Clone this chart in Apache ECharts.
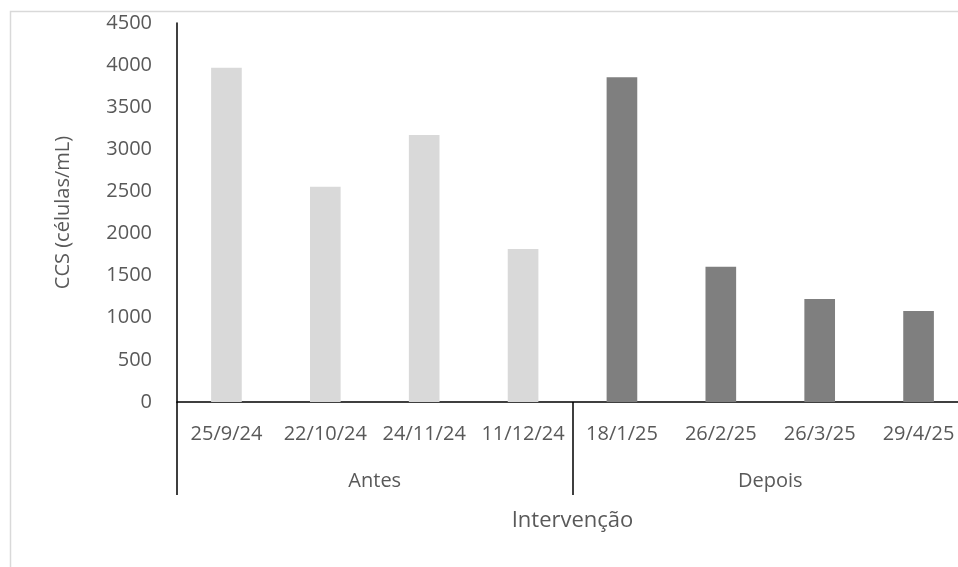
<!DOCTYPE html>
<html>
<head>
<meta charset="utf-8">
<script src="https://cdn.jsdelivr.net/npm/echarts@6/dist/echarts.min.js"></script>
<style>
  html, body { margin: 0; padding: 0; background: #fff; overflow: hidden; }
  /* the chart area runs past the right edge of the window, as in the original */
  #main { width: 1000px; height: 567px; }
</style>
</head>
<body>
<div id="main"></div>
<script>
var dates = ['25/9/24', '22/10/24', '24/11/24', '11/12/24', '18/1/25', '26/2/25', '26/3/25', '29/4/25']
var groups = ['Antes', 'Depois']
// CCS per date, group index of each date
var ccs = [3970, 2555, 3170, 1817, 3855, 1607, 1223, 1080]
var groupOf = [0, 0, 0, 0, 1, 1, 1, 1]
var groupColors = ['#d9d9d9', '#7f7f7f']

var font = 'Open Sans'
var textColor = '#595959'

var chart = echarts.init(document.getElementById('main'))

var option = {
  animation: false,
  textStyle: { fontFamily: font },
  graphic: [
    {
      type: 'rect',
      left: 8,
      top: 9,
      shape: { width: 1100, height: 600 },
      style: { fill: 'none', stroke: '#d9d9d9', lineWidth: 1.5 },
      silent: true
    }
  ],
  grid: {
    left: 177,
    right: 32,
    top: 23,
    bottom: 165
  },
  xAxis: [
    {
      type: 'category',
      data: dates,
      axisLine: { lineStyle: { color: '#000', width: 1.5 } },
      axisTick: { show: false },
      axisLabel: { color: textColor, fontSize: 20, margin: 22, fontFamily: font, interval: 0 },
      name: 'Intervenção',
      nameLocation: 'middle',
      nameGap: 108,
      nameTextStyle: { color: textColor, fontSize: 22, fontFamily: font }
    },
    {
      type: 'category',
      data: groups,
      position: 'bottom',
      offset: 93,
      axisLine: { show: false },
      axisTick: { show: true, inside: true, length: 93, lineStyle: { color: '#000', width: 1.5 } },
      axisLabel: { color: textColor, fontSize: 20, margin: -24, fontFamily: font },
      splitLine: { show: false }
    }
  ],
  yAxis: {
    type: 'value',
    min: 0,
    max: 4500,
    interval: 500,
    axisLine: { show: true, lineStyle: { color: '#000', width: 1.5 } },
    axisTick: { show: false },
    splitLine: { show: false },
    axisLabel: {
      color: textColor, fontSize: 20, margin: 25, fontFamily: font,
      formatter: function (v) { return String(v) }
    },
    name: 'CCS (células/mL)',
    nameLocation: 'middle',
    nameGap: 104,
    nameRotate: 90,
    nameTextStyle: { color: textColor, fontSize: 20, fontFamily: font }
  },
  series: [
    {
      type: 'bar',
      xAxisIndex: 0,
      barWidth: '31%',
      data: ccs.map(function (v, i) {
        return { value: v, itemStyle: { color: groupColors[groupOf[i]] } }
      })
    }
  ]
}

chart.setOption(option)
</script>
</body>
</html>
